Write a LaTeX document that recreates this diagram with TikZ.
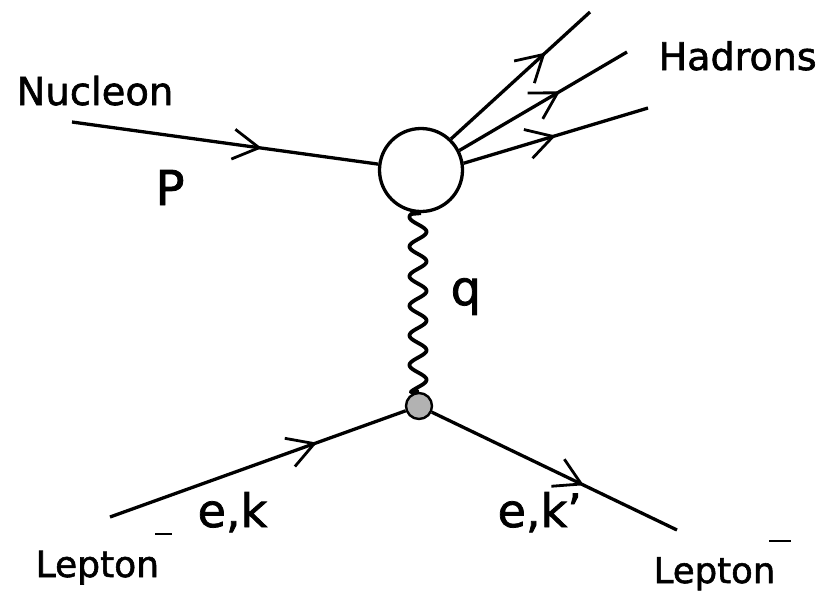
\documentclass[tikz,border=0pt]{standalone}
\usepackage{fontspec}
\setmainfont[FakeBold=1.6]{DejaVu Sans}
\usetikzlibrary{arrows.meta,decorations.markings}
\begin{document}
\begin{tikzpicture}[x=1pt,y=-1pt,
  line width=3.3pt,
  fermion/.style={postaction={decorate},
    decoration={markings, mark=at position #1 with {\arrow[line width=2.8pt]{Straight Barb[length=26pt,width=30pt]}}}},
  lbl/.style={inner sep=0pt, anchor=base west, font=\bfseries},
  photon/.style={line width=3.8pt, line join=round},
]
\useasboundingbox (0,0) rectangle (824,590);
% vertices
\node[circle, draw, line width=3.3pt, minimum size=83pt, inner sep=0pt] (H) at (421,170) {};
\node[circle, draw, line width=2.4pt, fill=gray!60, minimum size=26pt, inner sep=0pt] (V) at (419,406) {};
% free ends
\coordinate (nin) at (72,122);
\coordinate (h1) at (590,12);
\coordinate (h2) at (627,52);
\coordinate (h3) at (648,108);
\coordinate (lin) at (110,517);
\coordinate (lout) at (677,530);
% lines
\draw[fermion=0.62] (nin) -- (H);
\draw[fermion=0.68] (H.46) -- (h1);
\draw[fermion=0.6] (H.27) -- (h2);
\draw[fermion=0.5] (H.9) -- (h3);
\draw[photon] (H.south) -- plot[domain=214:392, samples=240, variable=\t, smooth]
   ({418-8.5*cos(12.1622*(\t-217))}, {\t}) -- (V.north);
\draw[fermion=0.7] (lin) -- (V);
\draw[fermion=0.62] (V) -- (lout);
% labels
\node[lbl, font=\fontsize{38.5}{40}\selectfont] (tNuc) at (15,105) {Nucleon};
\node[lbl, font=\fontsize{38}{40}\selectfont] (tHad) at (657,70) {Hadrons};
\node[lbl, font=\fontsize{48}{50}\selectfont] (tP) at (154,205) {P};
\node[lbl, font=\fontsize{48}{50}\selectfont] (tq) at (449,305) {q};
\node[lbl, font=\fontsize{46}{48}\selectfont] (tek) at (196,527) {e,k};
\node[lbl, font=\fontsize{46}{48}\selectfont] (tekp) at (496,527) {e,k'};
\node[lbl, font=\fontsize{36}{40}\selectfont] (tL1) at (34,577) {Lepton\kern-4pt\rule[42pt]{17pt}{2.5pt}};
\node[lbl, font=\fontsize{35.5}{40}\selectfont] (tL2) at (652,583) {Lepton\kern-6pt\rule[41pt]{22pt}{2.5pt}};
\end{tikzpicture}
\end{document}
